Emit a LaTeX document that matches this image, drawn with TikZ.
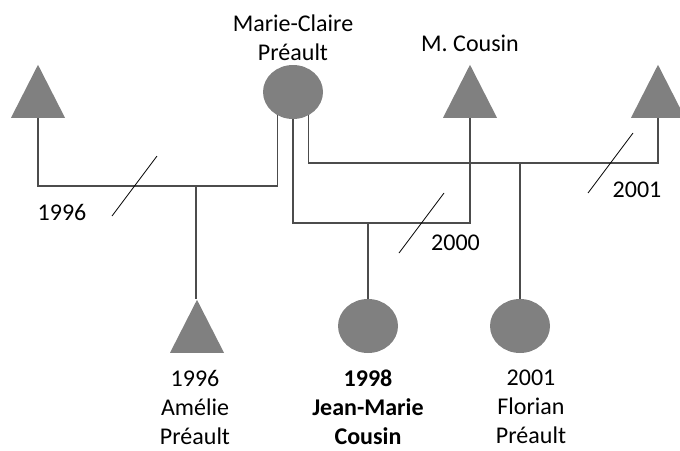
\documentclass[tikz,border=0pt]{standalone}
\usepackage{fontspec}
\setmainfont{Carlito}
\usetikzlibrary{shapes.geometric,positioning,calc}

\begin{document}
\begin{tikzpicture}[x=1pt,y=-1pt,font=\fontsize{24}{29}\selectfont]

\tikzset{male/.style = {isosceles triangle,isosceles triangle stretches,shape border rotate=90,fill=black!50,minimum width=54pt,minimum height=53pt,inner sep=0pt,anchor=south}}
\tikzset{female/.style = {ellipse,fill=black!50,minimum width=60pt,minimum height=54pt,inner sep=0pt}}
\tikzset{kin/.style = {draw=black!70,line width=1.3pt}}
\tikzset{divorce/.style = {draw=black,line width=0.8pt}}
\tikzset{caption/.style = {align=center,inner sep=0pt}}
\useasboundingbox (0,0) rectangle (680,450);
%persons
\node[male] (pa) at (38,118) {};
\node[female] (mc) at (293,92) {};
\node[male] (cousin) at (470,118) {};
\node[male] (pf) at (658,118) {};
\node[male] (amelie) at (197,353) {};
\node[female] (jm) at (368,326) {};
\node[female] (fl) at (520,326) {};
%names
\node[caption,above=4pt of mc] (mcname) {Marie-Claire\\Préault};
\node[caption,above=12pt of cousin] (cousinname) {M. Cousin};
\node[caption,below=17pt of amelie,xshift=-2pt] (ameliename) {1996\\Amélie\\Préault};
\node[caption,below=17pt of jm,font=\fontsize{24}{29}\selectfont\bfseries] (jmname) {1998\\Jean-Marie\\Cousin};
\node[caption,below=17pt of fl,xshift=11pt] (flname) {2001\\Florian\\Préault};
%unions
\coordinate (u1) at (196,186);
\coordinate (u2) at (368,223);
\coordinate (u3) at (520,163);
\draw[kin] (pa.south) |- (u1) -| (mc.237);
\draw[kin] (mc.south) |- (u2) -| (cousin.south);
\draw[kin] (mc.303) |- (u3) -| (pf.south);
\draw[kin] (u1) -- (u1 |- amelie.north);
\draw[kin] (u2) -- (jm.north);
\draw[kin] (u3) -- (fl.north);
%divorces
\coordinate (d1) at (134.5,186);
\coordinate (d2) at (421.5,223);
\coordinate (d3) at (610.5,163);
\foreach \d in {d1,d2,d3}
  \draw[divorce] ([shift={(-22.5,30)}]\d) -- ([shift={(22.5,-30)}]\d);
\node[caption] (y1) at (62,212) {1996};
\node[caption] (y2) at (455.5,242.5) {2000};
\node[caption] (y3) at (637,190) {2001};
\end{tikzpicture}
\end{document}
